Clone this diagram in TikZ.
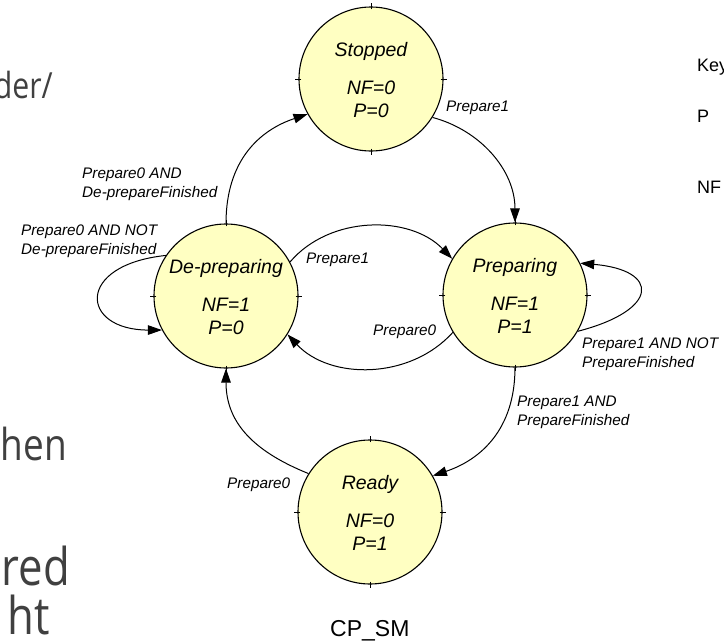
\documentclass[tikz,border=0pt]{standalone}
\usepackage{fontspec}
\setmainfont{Liberation Sans}
\newfontfamily\slidefont[FakeStretch=0.84]{Open Sans}
\usetikzlibrary{arrows.meta}
\definecolor{statefill}{RGB}{255,255,194}
\definecolor{slidegray}{RGB}{64,64,64}
\begin{document}
\begin{tikzpicture}[x=1pt,y=-1pt,
  state/.style={circle, draw, line width=1.1pt, fill=statefill, minimum size=144pt, inner sep=0pt},
  stname/.style={font=\fontsize{19.5}{22}\selectfont\itshape, anchor=base, inner sep=0pt},
  lbl/.style={font=\fontsize{15.3}{18.5}\selectfont\itshape, anchor=north west, align=left, inner sep=0pt},
  conn/.style={line width=1pt, -{Triangle[length=14pt,width=9.5pt]}},
  slidetext/.style={font=\slidefont, text=slidegray, inner sep=0pt, anchor=base east},
  keytext/.style={font=\fontsize{18}{20}\selectfont, anchor=base west, inner sep=0pt}]
\useasboundingbox (0,0) rectangle (724,643);

% left slide text (cut off at the edge)
\node[slidetext, font=\slidefont\fontsize{36}{40}\selectfont] (t1) at (53,98) {der/};
\node[slidetext, font=\slidefont\fontsize{44}{48}\selectfont] (t2) at (67,460) {hen};
\node[slidetext, font=\slidefont\fontsize{52}{56}\selectfont] (t3) at (70,585) {red};
\node[slidetext, font=\slidefont\fontsize{52}{56}\selectfont] (t4) at (50,634) {ht};

% key (cut off at the edge)
\node[keytext] (k1) at (697,71) {Key};
\node[keytext] (k2) at (697,122) {P};
\node[keytext] (k3) at (697,193) {NF};

% states
\node[state] (S) at (371,79) {};
\node[state] (D) at (226,296) {};
\node[state] (P) at (515,295) {};
\node[state] (R) at (370,512) {};

\foreach \n in {S,D,P,R} {
  \foreach \a in {0,90,180,270} {
    \draw[line width=0.6pt] ([shift={(\a:-3pt)}]\n.\a) -- ([shift={(\a:3pt)}]\n.\a);
  }
}

\node[stname] (S1) at ([yshift=23pt]S.center) {Stopped};
\node[stname] (S2) at ([yshift=-15pt]S.center) {NF=0};
\node[stname] (S3) at ([yshift=-38pt]S.center) {P=0};

\node[stname] (D1) at ([yshift=23pt]D.center) {De-preparing};
\node[stname] (D2) at ([yshift=-15pt]D.center) {NF=1};
\node[stname] (D3) at ([yshift=-38pt]D.center) {P=0};

\node[stname] (P1) at ([yshift=23pt]P.center) {Preparing};
\node[stname] (P2) at ([yshift=-15pt]P.center) {NF=1};
\node[stname] (P3) at ([yshift=-38pt]P.center) {P=1};

\node[stname] (R1) at ([yshift=23pt]R.center) {Ready};
\node[stname] (R2) at ([yshift=-15pt]R.center) {NF=0};
\node[stname] (R3) at ([yshift=-38pt]R.center) {P=1};

% transitions
\draw[conn] (S.-32) .. controls (480,130) and (515,170) .. (P.90);
\draw[conn] (D.90) .. controls (226,160) and (260,130) .. (S.-151);
\draw[conn] (D.28) .. controls (330,215) and (410,215) .. (P.150);
\draw[conn] (P.-149) .. controls (410,380) and (330,380) .. (D.-32);
\draw[conn] (D.146) .. controls (75,265) and (80,330) .. (D.-152);
\draw[conn] (P.-30) .. controls (660,310) and (660,270) .. (P.26);
\draw[conn] (P.-90) .. controls (515,430) and (480,460) .. (R.30);
\draw[conn] (R.148) .. controls (250,450) and (226,420) .. (D.-90);

% labels
\node[lbl] (l1) at (446,101) {Prepare1};
\node[lbl] (l2) at (82,168) {Prepare0 AND\\De-prepareFinished};
\node[lbl] (l3) at (21,225) {Prepare0 AND NOT\\De-prepareFinished};
\node[lbl] (l4) at (306,253) {Prepare1};
\node[lbl] (l5) at (373,325) {Prepare0};
\node[lbl] (l6) at (582,338) {Prepare1 AND NOT\\PrepareFinished};
\node[lbl] (l7) at (517,396) {Prepare1 AND\\PrepareFinished};
\node[lbl] (l8) at (227,478) {Prepare0};

\node[font=\fontsize{23}{26}\selectfont, anchor=base west, inner sep=0pt] (title) at (330,636) {CP\_SM};
\end{tikzpicture}
\end{document}
